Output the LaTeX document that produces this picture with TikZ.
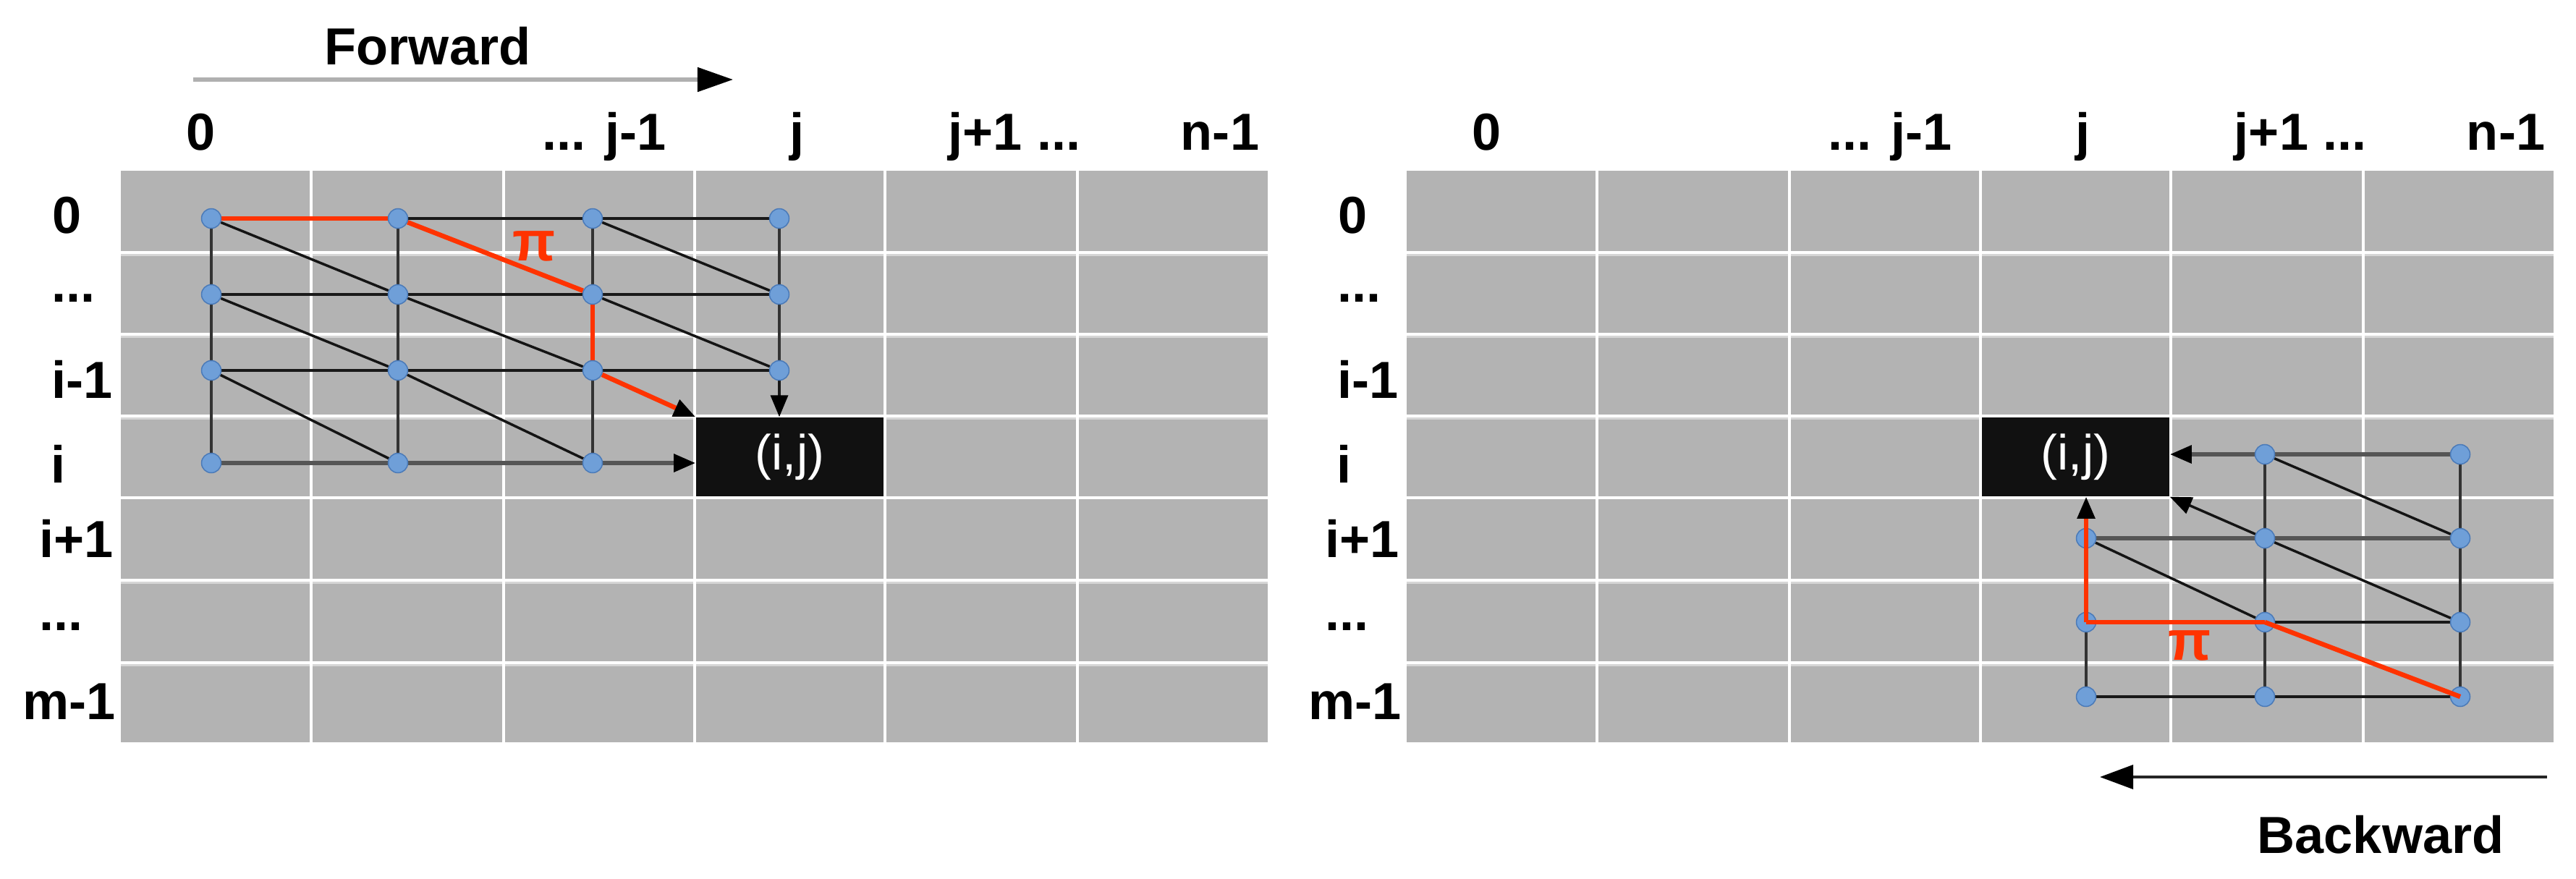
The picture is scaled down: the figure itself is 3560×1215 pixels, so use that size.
\documentclass[tikz,border=0pt]{standalone}
\usepackage{fontspec}
\setmainfont{Liberation Sans}
\usetikzlibrary{arrows.meta}
\definecolor{cellgray}{HTML}{B3B3B3}
\definecolor{pathred}{HTML}{FF3300}
\definecolor{nodeblue}{HTML}{6F9FD8}
\definecolor{nodeedge}{HTML}{4A7AB8}
\definecolor{thickgray}{HTML}{555555}
\definecolor{vertgray}{HTML}{333333}
\definecolor{fwdgray}{HTML}{B0B0B0}
\definecolor{cellblack}{HTML}{111111}
\definecolor{bandgray}{HTML}{D6D6D6}
\pgfdeclarelayer{bg}
\pgfdeclarelayer{edges}
\pgfdeclarelayer{top}
\pgfsetlayers{bg,edges,main,top}
\begin{document}
\begin{tikzpicture}[x=0.01cm,y=-0.01cm,
  lbl/.style={font=\fontsize{20.5}{24}\selectfont\bfseries, inner sep=0pt, anchor=base west},
  vtx/.style={circle, fill=nodeblue, draw=nodeedge, line width=0.015cm, minimum size=0.27cm, inner sep=0pt},
  edgethin/.style={draw=black!90, line width=0.035cm},
  vertline/.style={draw=vertgray, line width=0.035cm},
  diagline/.style={draw=black!92, line width=0.035cm},
  thickg/.style={draw=thickgray, line width=0.06cm},
  redp/.style={draw=pathred, line width=0.065cm},
  redv/.style={draw=pathred, line width=0.055cm},
  headtip/.style={-{Triangle[length=0.3cm,width=0.24cm,color=black,fill=black]}},
  cellblk/.style={fill=cellblack, minimum width=2.59cm, minimum height=1.09cm, inner sep=0pt, text=white, font=\fontsize{19.5}{23}\selectfont},
  pilbl/.style={text=pathred, font=\fontsize{22}{26}\selectfont\bfseries, inner sep=0pt},
  gridline/.style={draw=white, line width=0.04cm},
  bandline/.style={draw=bandgray, line width=0.03cm}
]
\useasboundingbox (0,0) rectangle (3560,1215);

% ---------- grids ----------
\begin{pgfonlayer}{bg}
\fill[cellgray] (167,236) rectangle (1752,1026);
\foreach \y in {352,465,578,805,919} \draw[bandline] (167,\y) -- (1752,\y);
\foreach \x in {430,696,960,1223,1489} \draw[gridline] (\x,236) -- (\x,1026);
\foreach \y in {349,462,575,688,802,916} \draw[gridline] (167,\y) -- (1752,\y);
\fill[cellgray] (1944,236) rectangle (3529,1026);
\foreach \y in {352,465,578,805,919} \draw[bandline] (1944,\y) -- (3529,\y);
\foreach \x in {2207,2473,2737,3000,3266} \draw[gridline] (\x,236) -- (\x,1026);
\foreach \y in {349,462,575,688,802,916} \draw[gridline] (1944,\y) -- (3529,\y);
\end{pgfonlayer}

% ---------- black cells ----------
\node[cellblk] (cellL) at (1091.5,631.5) {(i,j)};
\node[cellblk] (cellR) at (2868.5,631.5) {(i,j)};

% ---------- labels ----------
\node[lbl, anchor=base] (cl0) at (278,207) {0};
\node[lbl, anchor=base] (cl1) at (835,207) {... j-1};
\node[lbl, anchor=base] (cl2) at (1101,207) {j};
\node[lbl, anchor=base] (cl3) at (1402,207) {j+1 ...};
\node[lbl, anchor=base] (cl4) at (1686,207) {n-1};
\node[lbl, anchor=base] (cr0) at (2055,207) {0};
\node[lbl, anchor=base] (cr1) at (2612,207) {... j-1};
\node[lbl, anchor=base] (cr2) at (2878,207) {j};
\node[lbl, anchor=base] (cr3) at (3179,207) {j+1 ...};
\node[lbl, anchor=base] (cr4) at (3463,207) {n-1};

\node[lbl] (rl0) at (72,322) {0};
\node[lbl] (rl1) at (71,417) {...};
\node[lbl] (rl2) at (71,550) {i-1};
\node[lbl] (rl3) at (70,667) {i};
\node[lbl] (rl4) at (54,770) {i+1};
\node[lbl] (rl5) at (54,871) {...};
\node[lbl] (rl6) at (31,994) {m-1};
\node[lbl] (rr0) at (1849,322) {0};
\node[lbl] (rr1) at (1848,417) {...};
\node[lbl] (rr2) at (1848,550) {i-1};
\node[lbl] (rr3) at (1847,667) {i};
\node[lbl] (rr4) at (1831,770) {i+1};
\node[lbl] (rr5) at (1831,871) {...};
\node[lbl] (rr6) at (1808,994) {m-1};

\node[lbl, anchor=base] (fwd) at (591,89) {Forward};
\node[lbl, anchor=base] (bwd) at (3290,1179) {Backward};

\coordinate (fwdS) at (267,110);
\coordinate (fwdE) at (1013,110);
\draw[draw=fwdgray, line width=0.05cm, -{Triangle[length=0.49cm,width=0.33cm,color=black,fill=black]}] (fwdS) -- (fwdE);
\coordinate (bwdS) at (3520,1074);
\coordinate (bwdE) at (2902,1074);
\draw[draw=black!85, line width=0.04cm, -{Triangle[length=0.46cm,width=0.33cm,color=black,fill=black]}] (bwdS) -- (bwdE);

\node[pilbl] (piL) at (738,340) {π};
\node[pilbl] (piR) at (3026,892) {π};

% ---------- vertices ----------
\foreach \c/\x in {0/292,1/550,2/819,3/1077}
  \foreach \r/\y in {0/302,1/407,2/512}
    \node[vtx] (a\r\c) at (\x,\y) {};
\foreach \c/\x in {0/292,1/550,2/819}
  \node[vtx] (a3\c) at (\x,640) {};

\node[vtx] (b01) at (3130,628) {};
\node[vtx] (b02) at (3400,628) {};
\foreach \c/\x in {0/2883,1/3130,2/3400}
  \foreach \r/\y in {1/744,2/860,3/963}
    \node[vtx] (b\r\c) at (\x,\y) {};

% ---------- left edges ----------
\begin{pgfonlayer}{edges}
\draw[redp] (a00) -- (a01);
\draw[edgethin] (a01) -- (a02) -- (a03);
\draw[edgethin] (a10) -- (a11) -- (a12) -- (a13);
\draw[edgethin] (a20) -- (a21) -- (a22) -- (a23);
\draw[thickg] (a30) -- (a31) -- (a32);
\draw[thickg, headtip] (a32) -- (cellL.west |- a32);
\draw[vertline] (a00) -- (a10) -- (a20) -- (a30);
\draw[vertline] (a01) -- (a11) -- (a21) -- (a31);
\draw[vertline] (a02) -- (a12);
\draw[redv] (a12) -- (a22);
\draw[vertline] (a22) -- (a32);
\draw[vertline] (a03) -- (a13) -- (a23);
\draw[edgethin, headtip] (a23) -- (a23 |- cellL.north);
\draw[diagline] (a00) -- (a11) (a02) -- (a13) (a10) -- (a21) (a11) -- (a22)
  (a12) -- (a23) (a20) -- (a31) (a21) -- (a32);
\draw[redp] (a01) -- (a12);
\draw[redp, headtip] (a22) -- (cellL.north west);

% ---------- right edges ----------
\draw[thickg] (b02) -- (b01);
\draw[thickg, headtip] (b01) -- (cellR.east |- b01);
\draw[thickg] (b10) -- (b11) -- (b12);
\draw[edgethin] (b21) -- (b22);
\draw[edgethin] (b30) -- (b31) -- (b32);
\draw[vertline] (b20) -- (b30);
\draw[vertline] (b01) -- (b11) -- (b21) -- (b31);
\draw[vertline] (b02) -- (b12) -- (b22) -- (b32);
\draw[diagline] (b01) -- (b12) (b10) -- (b21) (b11) -- (b22);
\draw[diagline, headtip] (b11) -- (cellR.south east);
\end{pgfonlayer}

\begin{pgfonlayer}{top}
\draw[redp] (b20.center) -- (b21.center);
\draw[redp] (b21.center) -- (b32.center);
\draw[redv] (b20.center) -- (b10.center);
\draw[redv, headtip] (b10.center) -- (b10 |- cellR.south);
\end{pgfonlayer}
\end{tikzpicture}
\end{document}
